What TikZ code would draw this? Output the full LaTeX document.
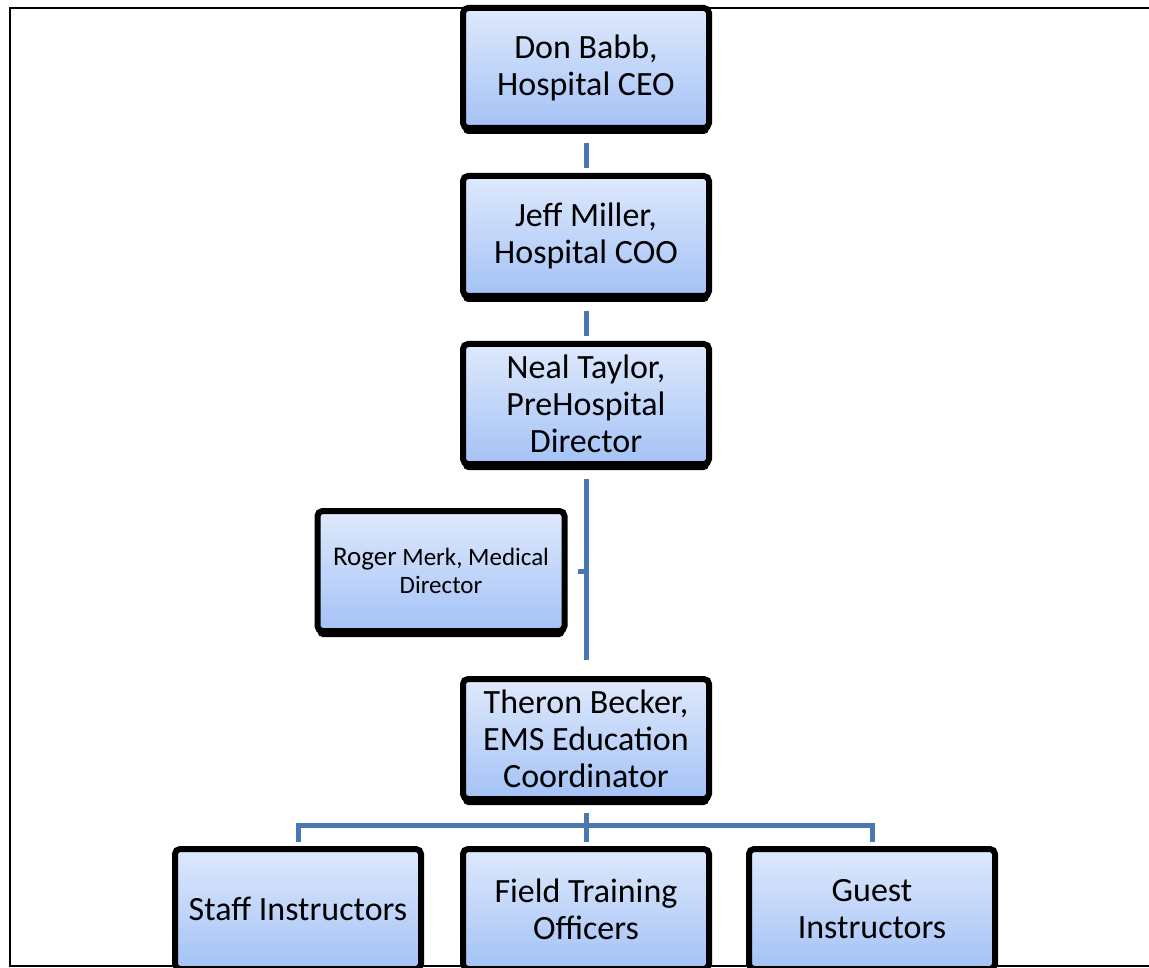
\documentclass[tikz,border=0pt]{standalone}
\usepackage{fontspec}
\setmainfont{Carlito}
\usetikzlibrary{shadows}
\definecolor{boxtop}{RGB}{222,233,252}
\definecolor{boxbottom}{RGB}{164,194,246}
\definecolor{linkblue}{RGB}{74,120,176}

\begin{document}
\begin{tikzpicture}[x=1pt, y=-1pt,
		person/.style={draw=black, line width=6pt, rounded corners=5pt,
			top color=boxtop, bottom color=boxbottom,
			minimum width=246pt, minimum height=120pt, inner sep=0pt,
			align=center, font=\fontsize{34}{37}\selectfont,
			drop shadow={shadow xshift=0pt, shadow yshift=-6pt, fill=black, opacity=1}},
		link/.style={draw=linkblue, line width=5pt}]
		\useasboundingbox (0, 0) rectangle (1149, 968);
		\draw[line width=2.5pt] (1149, 8) -- (10, 8) -- (10, 966) -- (1149, 966);

		\node[person] (ceo) at (586, 68) {Don Babb,\\Hospital CEO};
		\node[person] (coo) at (586, 236) {Jeff Miller,\\Hospital COO};
		\node[person] (prehosp) at (586, 404) {Neal Taylor,\\PreHospital\\Director};
		\node[person, minimum width=247pt, font=\fontsize{25}{28}\selectfont] (meddir) at (441, 571)
			{{\fontsize{27}{28}\selectfont Roger} Merk, Medical\\Director};
		\node[person] (emsedu) at (586, 739) {Theron Becker,\\EMS Education\\Coordinator};
		\node[person] (staff) at (298, 909) {Staff Instructors};
		\node[person] (fto) at (586, 909) {Field Training\\Officers};
		\node[person] (guest) at (872, 909) {Guest\\Instructors};

		\draw[link, shorten <=12pt, shorten >=5pt] (ceo) -- (coo);
		\draw[link, shorten <=12pt, shorten >=5pt] (coo) -- (prehosp);
		\draw[link, shorten <=12pt, shorten >=16pt] (prehosp) -- (emsedu);
		\draw[link, shorten <=10pt] (meddir.east) -- (meddir.east -| prehosp.south);

		\coordinate (bus) at (586, 825);
		\draw[link, shorten <=11pt, shorten >=4pt] (emsedu) -- (fto);
		\draw[link, shorten >=4pt] (bus) -| (staff.north);
		\draw[link, shorten >=4pt] (bus) -| (guest.north);
	\end{tikzpicture}
\end{document}
